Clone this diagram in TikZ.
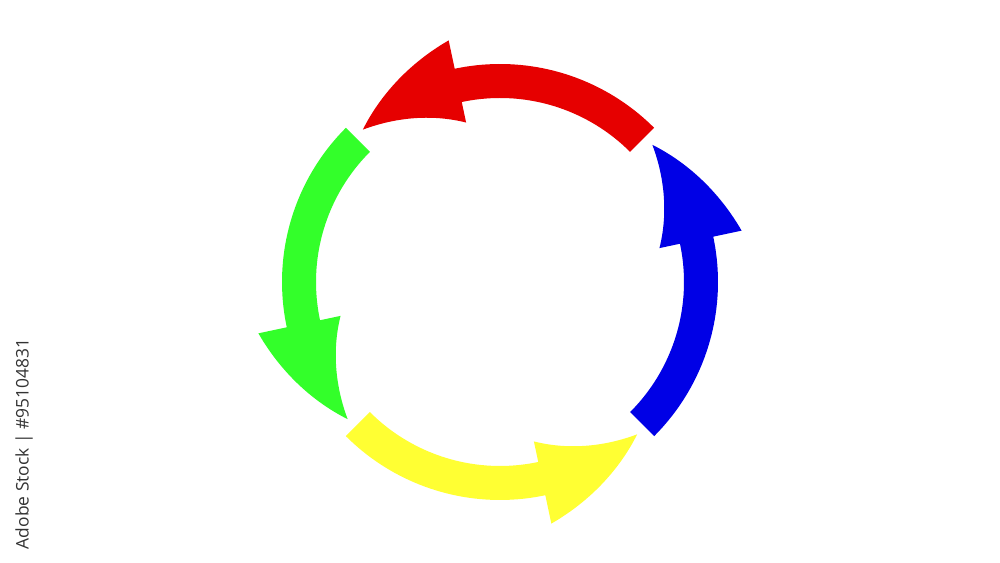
\documentclass[tikz,border=0pt]{standalone}
\usepackage{fontspec}
\setsansfont{Open Sans}
\definecolor{cred}{HTML}{E60000}
\definecolor{cblue}{HTML}{0000E6}
\definecolor{cgreen}{HTML}{33FF2A}
\definecolor{cyellow}{HTML}{FFFF33}
\definecolor{wm}{HTML}{333333}
% #1 = rotation offset, #2 = colour
\newcommand{\cyclearrowpath}[2]{%
  \fill[#2, rotate=#1]
    plot[domain=45:102, samples=40] (\x:218)
    -- plot[domain=102:132, samples=30] (\x:{247-(\x-102)*42/30})
    -- plot[domain=132:102, samples=30] (\x:{163+(205-163)*(\x-102)/30})
    -- plot[domain=102:45, samples=40] (\x:184)
    -- cycle;}
\begin{document}
\begin{tikzpicture}[x=0.02cm,y=0.02cm]
\useasboundingbox[fill=white] (0,0) rectangle (1000,563);
\begin{scope}[shift={(500,281)}]
  \cyclearrowpath{0}{cred}
  \cyclearrowpath{-90}{cblue}
  \cyclearrowpath{90}{cgreen}
  \cyclearrowpath{180}{cyellow}
\end{scope}
\node[rotate=90, text=wm, font=\sffamily\fontsize{9.9}{11}\selectfont, inner sep=0pt] (wmark) at (24,119) {Adobe Stock | \#95104831};
\end{tikzpicture}
\end{document}
